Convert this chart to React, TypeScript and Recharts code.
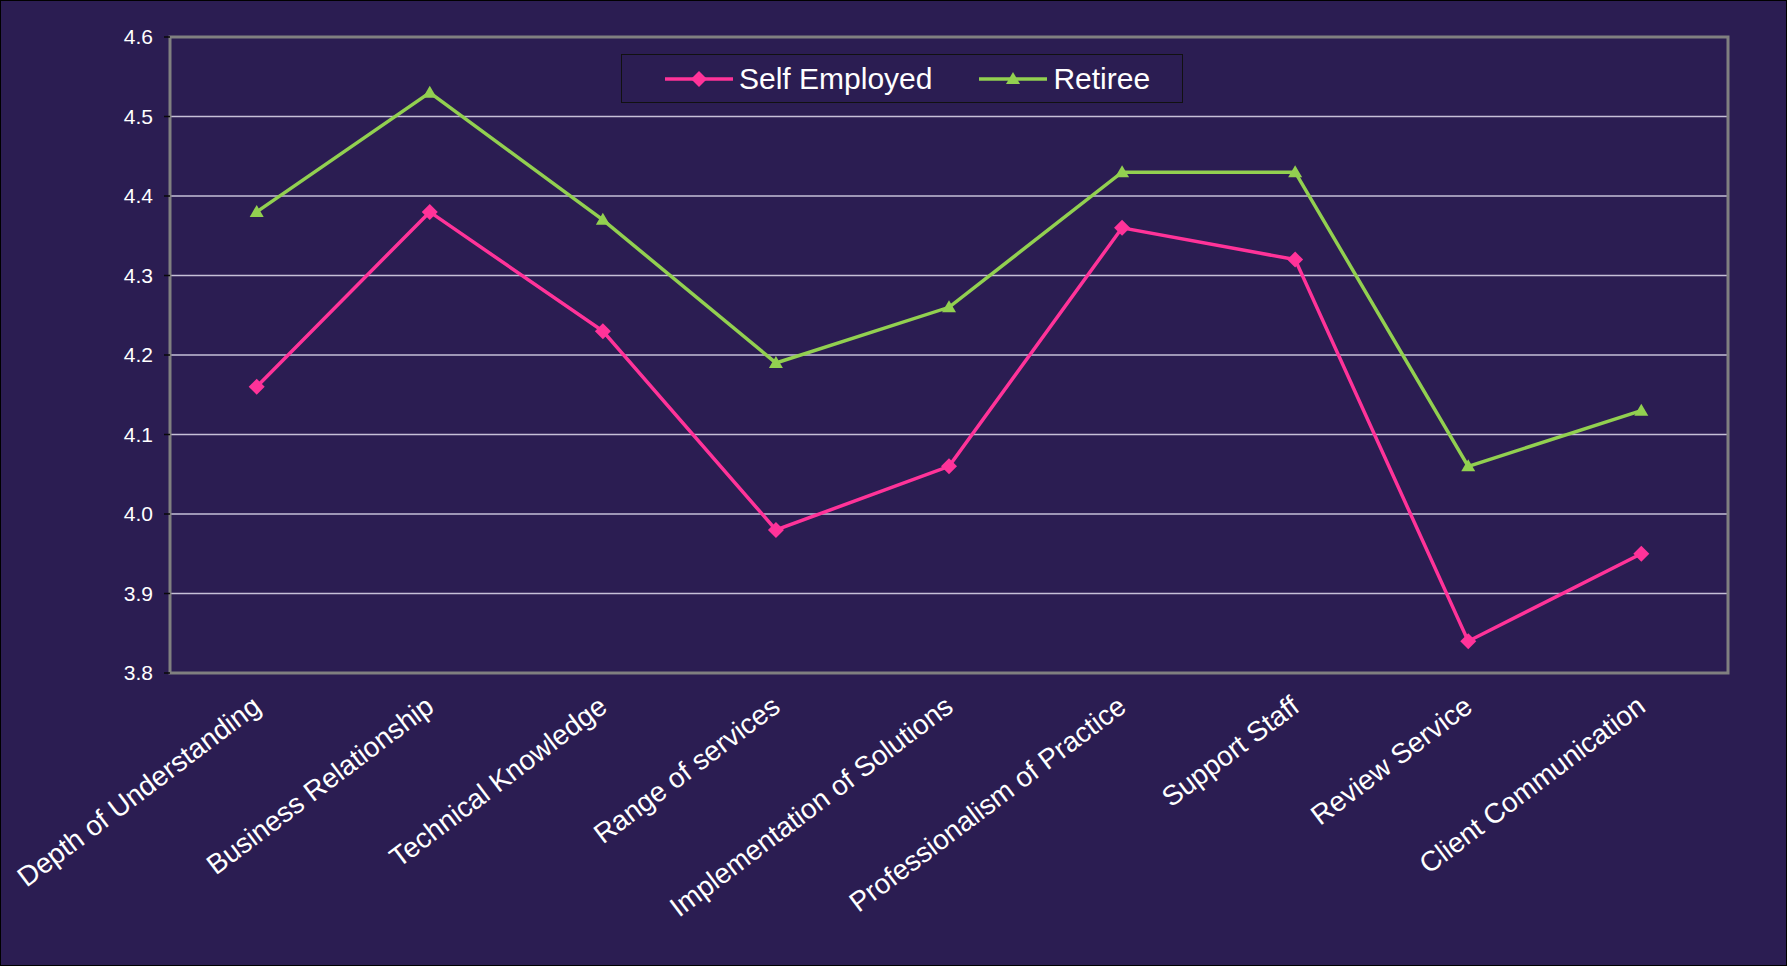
import React from 'react';
import {
  LineChart,
  Line,
  XAxis,
  YAxis,
  CartesianGrid,
  Legend,
  ReferenceArea,
} from 'recharts';

const categories = [
  'Depth of Understanding',
  'Business Relationship',
  'Technical Knowledge',
  'Range of services',
  'Implementation of Solutions',
  'Professionalism of Practice',
  'Support Staff',
  'Review Service',
  'Client Communication',
];
const selfEmployed = [4.16, 4.38, 4.23, 3.98, 4.06, 4.36, 4.32, 3.84, 3.95];
const retiree = [4.38, 4.53, 4.37, 4.19, 4.26, 4.43, 4.43, 4.06, 4.13];
const yTicks = [3.8, 3.9, 4.0, 4.1, 4.2, 4.3, 4.4, 4.5, 4.6];
const boundaryTicks = [0, 1, 2, 3, 4, 5, 6, 7, 8, 9];

const BG = '#2B1D52';
const PINK = '#FF3399';
const GREEN = '#92D050';
const FONT = '"Liberation Sans", Arial, sans-serif';

const data = categories.map((name, i) => ({
  name,
  pos: i + 0.5,
  self: selfEmployed[i],
  retiree: retiree[i],
}));

function diamond(props: any) {
  const { cx, cy, index } = props;
  if (cx == null || cy == null) return <g key={index} />;
  return (
    <path
      key={index}
      d={`M${cx},${cy - 8} L${cx + 8},${cy} L${cx},${cy + 8} L${cx - 8},${cy} Z`}
      fill={PINK}
    />
  );
}

function triangle(props: any) {
  const { cx, cy, index } = props;
  if (cx == null || cy == null) return <g key={index} />;
  return (
    <path
      key={index}
      d={`M${cx},${cy - 7} L${cx + 7},${cy + 5} L${cx - 7},${cy + 5} Z`}
      fill={GREEN}
    />
  );
}

function XTick(props: any) {
  const { x, y, payload } = props;
  const tx = x + 6;
  const ty = y + 37;
  return (
    <text
      x={tx}
      y={ty}
      transform={`rotate(-37, ${tx}, ${ty})`}
      textAnchor="end"
      fill="#FFFFFF"
      fontSize={28}
      fontFamily={FONT}
    >
      {payload.value}
    </text>
  );
}

function LegendBox() {
  const items = [
    { label: 'Self Employed', color: PINK, shape: 'diamond', gap: 43 },
    { label: 'Retiree', color: GREEN, shape: 'triangle', gap: 47 },
  ];
  return (
    <div
      style={{
        display: 'flex',
        alignItems: 'center',
        height: '100%',
        boxSizing: 'border-box',
      }}
    >
      {items.map((it) => (
        <div key={it.label} style={{ display: 'flex', alignItems: 'center', marginLeft: it.gap }}>
          <svg width={68} height={24}>
            <line x1={0} y1={12} x2={68} y2={12} stroke={it.color} strokeWidth={3.5} />
            {it.shape === 'diamond' ? (
              <path d="M34,4 L42,12 L34,20 L26,12 Z" fill={it.color} />
            ) : (
              <path d="M34,5 L41,17 L27,17 Z" fill={it.color} />
            )}
          </svg>
          <span
            style={{
              marginLeft: 6,
              color: '#FFFFFF',
              fontSize: 30,
              fontFamily: FONT,
              lineHeight: '30px',
            }}
          >
            {it.label}
          </span>
        </div>
      ))}
    </div>
  );
}

export default function App() {
  return (
    <div
      style={{
        position: 'absolute',
        left: 0,
        top: 0,
        width: 1787,
        height: 966,
        boxSizing: 'border-box',
        border: '1px solid #000000',
        background: BG,
      }}
    >
      <LineChart
        width={1785}
        height={964}
        data={data}
        margin={{ top: 36, right: 58, left: 0, bottom: 290 }}
      >
        <CartesianGrid
          horizontal
          vertical={false}
          stroke="#C6C0D8"
          strokeWidth={1.5}
        />
        <XAxis
          xAxisId="grid"
          dataKey="pos"
          type="number"
          domain={[0, 9]}
          ticks={boundaryTicks}
          allowDataOverflow
          height={1}
          axisLine={false}
          tick={false}
          tickLine={{ stroke: '#0A0A0A', strokeWidth: 1.5 }}
          tickSize={9}
        />
        <XAxis
          xAxisId="cat"
          dataKey="name"
          type="category"
          height={1}
          padding={{ left: 86.7, right: 86.7 }}
          axisLine={false}
          tickLine={false}
          tickSize={0}
          tickMargin={0}
          interval={0}
          tick={<XTick />}
        />
        <YAxis
          width={169}
          domain={[3.8, 4.6]}
          ticks={yTicks}
          allowDataOverflow
          axisLine={false}
          tickLine={{ stroke: '#0A0A0A', strokeWidth: 1.5 }}
          tickSize={6}
          tickMargin={11}
          tickFormatter={(v: number) => v.toFixed(1)}
          tick={{ fill: '#FFFFFF', fontSize: 21, fontFamily: FONT }}
        />
        <ReferenceArea
          xAxisId="grid"
          x1={0}
          x2={9}
          y1={3.8}
          y2={4.6}
          fill={BG}
          fillOpacity={0}
          stroke="#808080"
          strokeWidth={3}
          ifOverflow="visible"
        />
        <Legend
          layout="horizontal"
          verticalAlign="middle"
          align="center"
          content={() => <LegendBox />}
          wrapperStyle={{
            left: 620,
            top: 53,
            width: 562,
            height: 49,
            border: '1px solid #111111',
            boxSizing: 'border-box',
          }}
        />
        <Line
          xAxisId="cat"
          dataKey="self"
          name="Self Employed"
          stroke={PINK}
          strokeWidth={3.5}
          dot={diamond}
          activeDot={false}
          isAnimationActive={false}
        />
        <Line
          xAxisId="cat"
          dataKey="retiree"
          name="Retiree"
          stroke={GREEN}
          strokeWidth={3.5}
          dot={triangle}
          activeDot={false}
          isAnimationActive={false}
        />
      </LineChart>
    </div>
  );
}
